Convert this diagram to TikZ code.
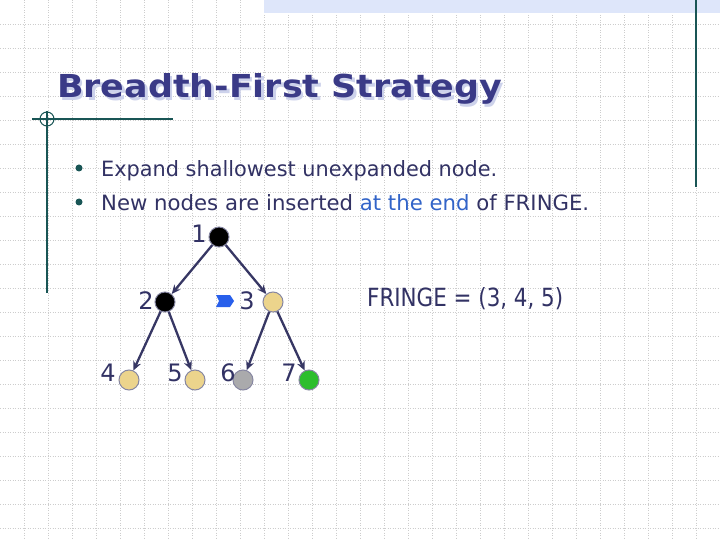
\documentclass[tikz,border=0pt]{standalone}
\usepackage{fontspec}
\setmainfont{DejaVu Sans}
\usepackage{graphicx}
\usetikzlibrary{arrows.meta}
\definecolor{titleblue}{RGB}{58,58,135}
\definecolor{titleshadow}{RGB}{205,210,235}
\definecolor{textc}{RGB}{50,50,100}
\definecolor{linkblue}{RGB}{50,100,200}
\definecolor{teal}{RGB}{25,85,85}
\definecolor{bandc}{RGB}{222,230,250}
\definecolor{gridc}{RGB}{205,205,205}
\definecolor{edgec}{RGB}{55,55,100}
\definecolor{tanc}{RGB}{236,212,140}
\definecolor{grayc}{RGB}{170,170,172}
\definecolor{greenc}{RGB}{45,190,45}
\definecolor{chevc}{RGB}{40,95,235}
\newcommand{\titletext}{\resizebox{445pt}{24pt}{\bfseries Breadth-First Strategy}}
\begin{document}
\begin{tikzpicture}[x=1pt,y=-1pt,
  gridline/.style={draw=gridc, line width=0.7pt, dash pattern=on 1pt off 1.5pt},
  decoline/.style={draw=teal, line width=1.5pt},
  bulletdot/.style={circle, fill=teal, inner sep=0, minimum size=7pt},
  txt/.style={anchor=base west, inner sep=0, text=textc},
  digit/.style={anchor=base, inner sep=0, text=textc, font=\fontsize{24}{24}\selectfont},
  tn/.style={circle, draw=edgec!60, line width=1pt, minimum size=20pt, inner sep=0},
  edge/.style={draw=edgec, line width=2.3pt, -{Stealth[length=9pt,width=8pt]}}]
\useasboundingbox (0,0) rectangle (720,540);
\fill[white] (0,0) rectangle (720,540);
% grid
\foreach \i in {24,48,...,696} \draw[gridline] (\i,0) -- (\i,540);
\foreach \j in {24,48,...,528} \draw[gridline] (0,\j) -- (720,\j);
% top band
\fill[bandc] (264,0) rectangle (720,13);
% decorative lines
\draw[decoline] (696,0) -- (696,187);
\draw[decoline] (47,111) -- (47,293);
\draw[decoline] (32,119) -- (173,119);
\draw[draw=teal, line width=1pt] (47,119) circle (7);
% title with shadow
\node[anchor=base west, inner sep=0, text=titleblue] (title) at (57,98)
  {\makebox[0pt][l]{\hspace{2.5pt}\raisebox{-2.5pt}{\textcolor{titleshadow}{\titletext}}}\titletext};
% bullets
\node[bulletdot] (b1) at (79,168) {};
\node[bulletdot] (b2) at (79,202) {};
\node[txt] (l1) at (101,176) {\resizebox{396pt}{16pt}{Expand shallowest unexpanded node.}};
\node[txt] (l2) at (101,211) {\resizebox{488pt}{16pt}{New nodes are inserted \textcolor{linkblue}{at the end} of FRINGE.}};
% fringe
\node[txt] (fringe) at (367,306) {\resizebox{196pt}{19pt}{FRINGE = (3, 4, 5)}};
% tree nodes
\node[tn, fill=black] (n1) at (219,237) {};
\node[tn, fill=black] (n2) at (165,302) {};
\node[tn, fill=tanc] (n3) at (273,302) {};
\node[tn, fill=tanc] (n4) at (129,380) {};
\node[tn, fill=tanc] (n5) at (195,380) {};
\node[tn, fill=grayc] (n6) at (243,380) {};
\node[tn, fill=greenc] (n7) at (309,380) {};
% labels
\node[digit] (d1) at (199,242) {1};
\node[digit] (d2) at (146,309) {2};
\node[digit] (d3) at (247,309) {3};
\node[digit] (d4) at (108,381) {4};
\node[digit] (d5) at (175,381) {5};
\node[digit] (d6) at (228,381) {6};
\node[digit] (d7) at (289,381) {7};
% chevron marker
\fill[chevc] (216,295) -- (230,295) -- (234,301) -- (230,307) -- (216,307) -- (219,301) -- cycle;
% edges
\draw[edge] (n1) -- (n2);
\draw[edge] (n1) -- (n3);
\draw[edge] (n2) -- (n4);
\draw[edge] (n2) -- (n5);
\draw[edge] (n3) -- (n6);
\draw[edge] (n3) -- (n7);
\end{tikzpicture}
\end{document}
